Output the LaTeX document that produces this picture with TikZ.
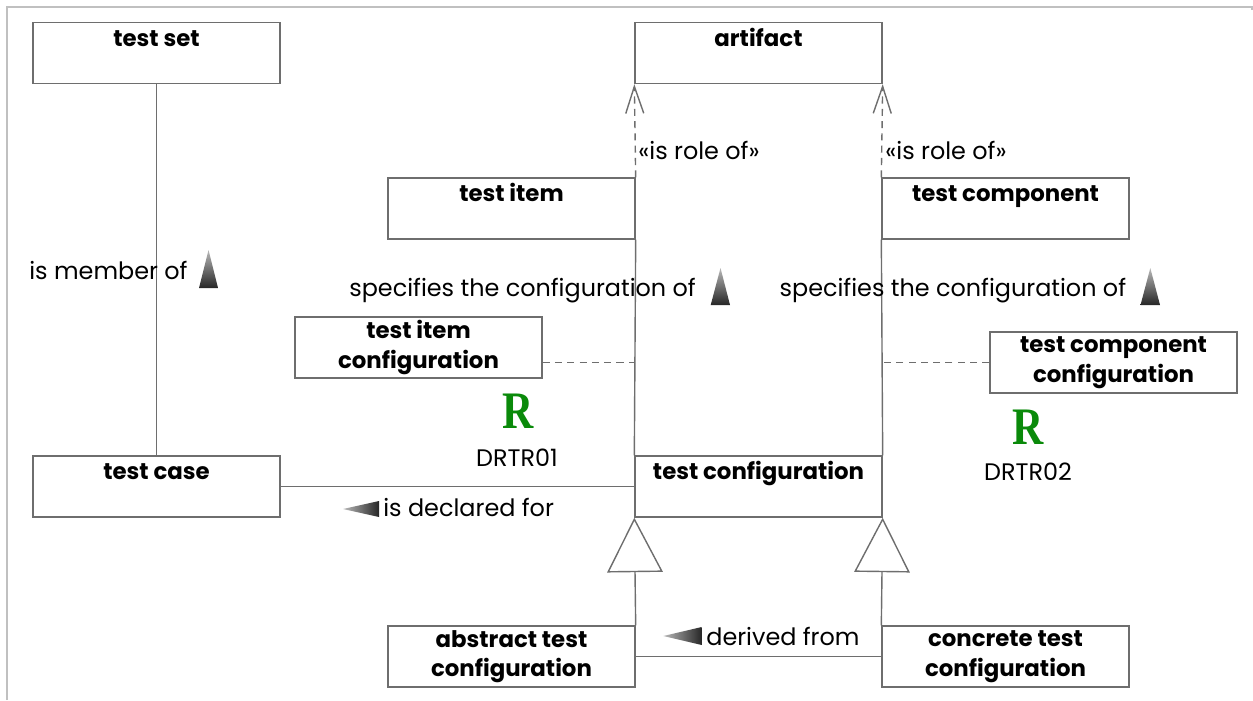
\documentclass[tikz,border=0pt]{standalone}
\usepackage{fontspec}
\setmainfont{Poppins}
\newfontfamily\rfont{Liberation Serif}
\usetikzlibrary{arrows.meta}
\definecolor{linegray}{HTML}{6E6E6E}
\definecolor{framegray}{HTML}{C0C0C0}
\definecolor{rgreen}{HTML}{0A8A0A}
\tikzset{
  box/.style={draw=linegray, line width=0.8pt, rectangle, minimum width=4.94cm, minimum height=1.22cm,
    inner sep=0pt, font=\bfseries\fontsize{13}{16.8}\selectfont},
  titlebox/.style={box, text height=0.474cm, text depth=0.746cm},
  twobox/.style={box, align=center},
  conn/.style={draw=linegray, line width=0.8pt},
  roleconn/.style={conn, dashed, dash pattern=on 4pt off 3pt, -{Straight Barb[length=0.54cm, width=0.36cm, line width=0.8pt]}},
  gen/.style={conn, -{Triangle[open, length=1.09cm, width=1.11cm, fill=white, line width=0.8pt]}},
  lbl/.style={font=\fontsize{13.6}{16}\selectfont, inner sep=0pt, anchor=base west},
  rlbl/.style={font=\rfont\bfseries\fontsize{30}{30}\selectfont, text=rgreen, inner sep=0pt, anchor=base, xscale=0.82},
  idlbl/.style={font=\fontsize{13.6}{16}\selectfont, inner sep=0pt, anchor=base},
  uptri/.style={top color=gray!55, bottom color=black!85, draw=none},
  lefttri/.style={left color=gray!55, right color=black!85, draw=none},
}
\begin{document}
\begin{tikzpicture}[x=0.02cm, y=-0.02cm]
\useasboundingbox (0,0) rectangle (1253,700);
% page frame
\draw[framegray, line width=0.04cm] (7,700) -- (7,7) -- (1252,7) -- (1252,10);

% boxes
\node[titlebox] (testset) at (156.5,53) {test set};
\node[titlebox] (artifact) at (758.5,53) {artifact};
\node[titlebox] (testitem) at (511.5,208.5) {test item};
\node[titlebox] (testcomp) at (1005.5,208.5) {test component};
\node[twobox] (tic) at (418.5,347.5) {test item\\configuration};
\node[twobox] (tcc) at (1113.5,362.5) {test component\\configuration};
\node[titlebox] (testcase) at (156.5,486.5) {test case};
\node[titlebox] (testconfig) at (758.5,486.5) {test configuration};
\node[twobox] (abstract) at (511.5,656.5) {abstract test\\configuration};
\node[twobox] (concrete) at (1005.5,656.5) {concrete test\\configuration};

% connectors
\draw[conn] (testset.south) -- (testcase.north);
\draw[roleconn] (testitem.north east) -- (artifact.south west);
\draw[roleconn] (testcomp.north west) -- (artifact.south east);
\draw[conn] (testitem.south east) -- (testconfig.north west);
\draw[conn] (testcomp.south west) -- (testconfig.north east);
\draw[conn, dashed, dash pattern=on 4pt off 3pt] (tic.east |- tcc.west) -- (testconfig.west |- tcc.west);
\draw[conn, dashed, dash pattern=on 4pt off 3pt] (tcc.west) -- (testconfig.east |- tcc.west);
\draw[conn] (testcase.east) -- (testcase.east -| testconfig.west);
\draw[gen] (abstract.north east) -- (testconfig.south west);
\draw[gen] (concrete.north west) -- (testconfig.south east);
\draw[conn] (abstract.east) -- (concrete.west);

% labels
\node[lbl] (lmember) at (29,279) {is member of};
\shade[uptri] (199,288) -- (218,288) -- (208.5,250) -- cycle;
\node[lbl] (lrole1) at (638,159.3) {«is role of»};
\node[lbl] (lrole2) at (885,159.3) {«is role of»};
\node[lbl] (lspec1) at (349,296.7) {specifies the configuration of};
\shade[uptri] (710.7,305) -- (730,305) -- (720.5,268) -- cycle;
\node[lbl] (lspec2) at (779.3,296.7) {specifies the configuration of};
\shade[uptri] (1140.5,305) -- (1160,305) -- (1150.3,268) -- cycle;
\shade[lefttri] (343,509) -- (379,501) -- (379,517) -- cycle;
\node[lbl] (ldecl) at (383,516) {is declared for};
\shade[lefttri] (663.3,636) -- (701.7,627) -- (701.7,645) -- cycle;
\node[lbl] (lderiv) at (706,645) {derived from};

% rules
\node[rlbl] (r1) at (518,428.3) {R};
\node[idlbl] (d1) at (517,466) {DRTR01};
\node[rlbl] (r2) at (1027.7,444) {R};
\node[idlbl] (d2) at (1028,480.7) {DRTR02};
\end{tikzpicture}
\end{document}
